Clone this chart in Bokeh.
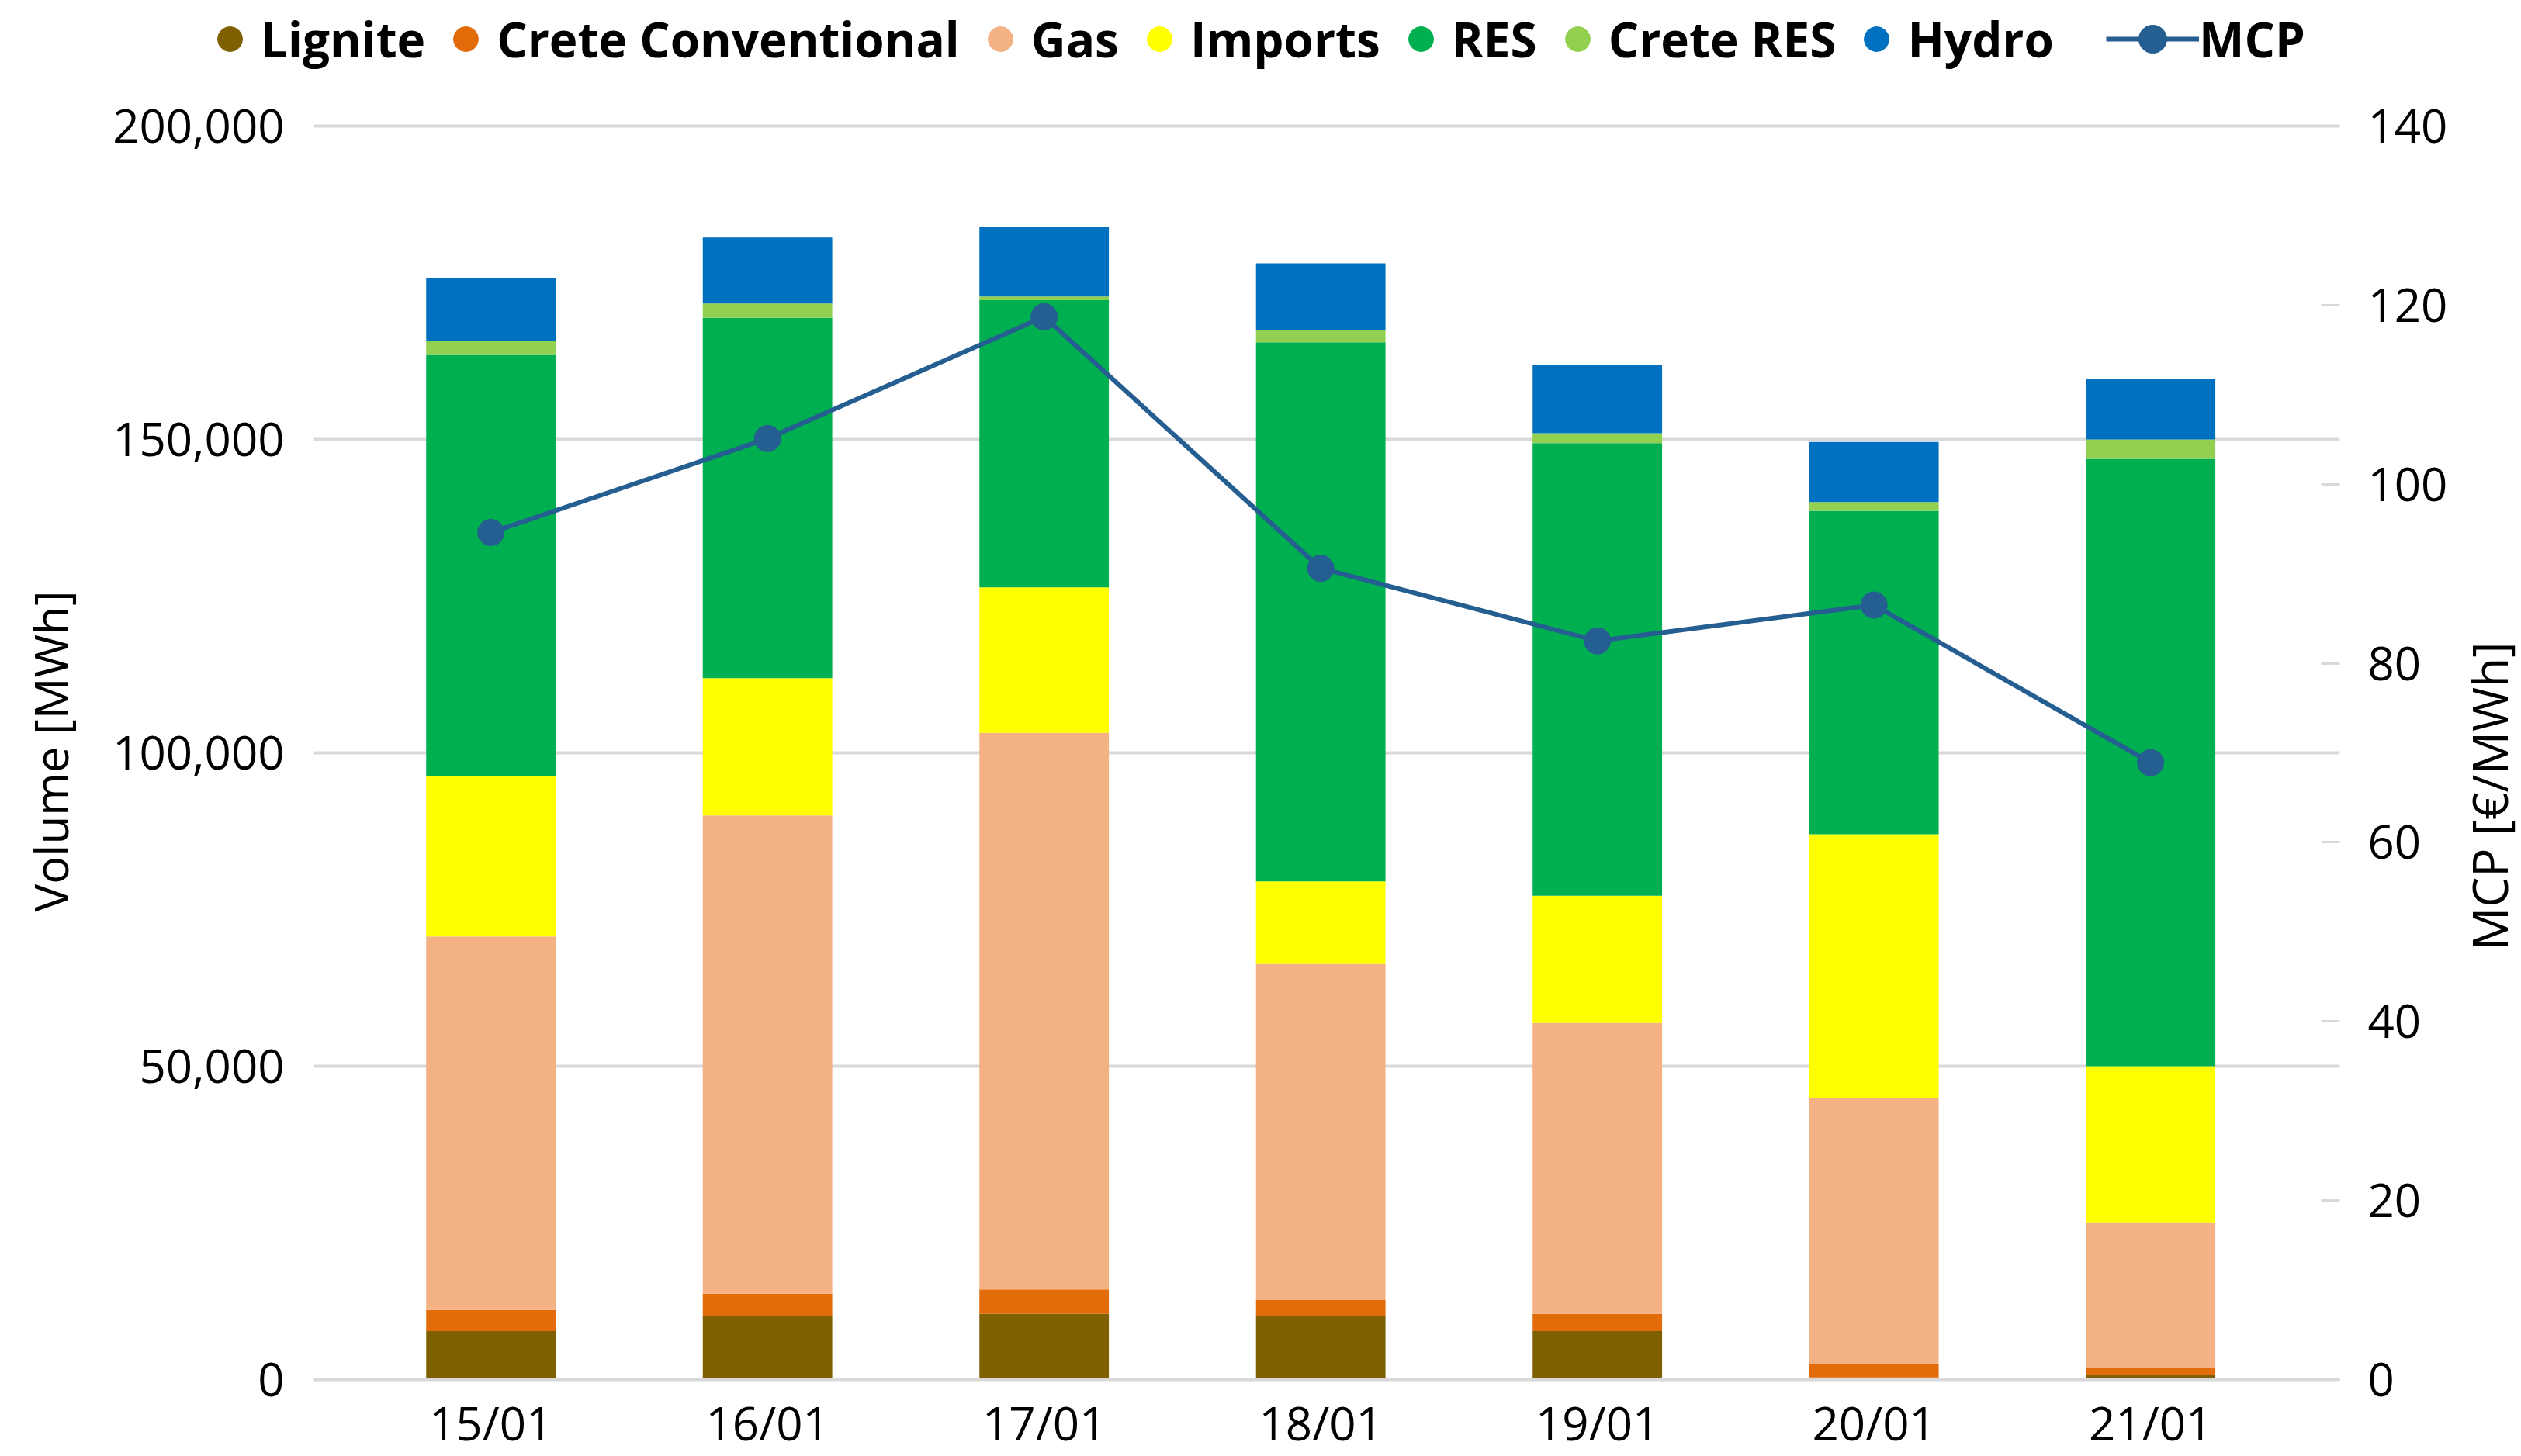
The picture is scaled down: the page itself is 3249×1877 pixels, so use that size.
import math
from bokeh.plotting import figure
from bokeh.layouts import column, row
from bokeh.models import (ColumnDataSource, Range1d, LinearAxis, FixedTicker,
                          NumeralTickFormatter, Legend, LegendItem, Label)
from bokeh.embed import file_html
from bokeh.resources import INLINE

# ---------------- data ----------------
dates = ["15/01", "16/01", "17/01", "18/01", "19/01", "20/01", "21/01"]
lignite = [7750, 10200, 10500, 10200, 7750, 330, 700]
crete_conv = [3350, 3500, 3900, 2500, 2750, 2070, 1200]
gas = [59600, 76300, 88800, 53600, 46400, 42500, 23200]
imports = [25600, 21900, 23200, 13200, 20300, 42100, 24900]
res = [67200, 57500, 45800, 86000, 72200, 51600, 96900]
crete_res = [2200, 2300, 600, 2000, 1600, 1400, 3100]
hydro = [10000, 10500, 11100, 10600, 10900, 9600, 9700]
mcp = [94.6, 105.1, 118.7, 90.6, 82.5, 86.5, 68.9]

series_names = ["Lignite", "Crete Conventional", "Gas", "Imports", "RES", "Crete RES", "Hydro"]
series_keys = ["lignite", "crete_conv", "gas", "imports", "res", "crete_res", "hydro"]
volume_ticks = [0, 50000, 100000, 150000, 200000]
mcp_ticks = [0, 20, 40, 60, 80, 100, 120, 140]

# ---------------- style ----------------
colors = ["#7f6000", "#e36c0a", "#f4b183", "#ffff00", "#00b050", "#92d050", "#0070c0"]
mcp_color = "#255e91"
grid_color = "#d9d9d9"
FONT = "Open Sans"
TICK_SIZE = "60px"

x = list(range(len(dates)))
src = ColumnDataSource(dict(x=x, lignite=lignite, crete_conv=crete_conv, gas=gas,
                            imports=imports, res=res, crete_res=crete_res,
                            hydro=hydro, mcp=mcp))

# ================= main chart =================
# a small headroom above 200,000 so the top grid line is fully visible
VOL_TOP = 200495
MCP_TOP = 140 * VOL_TOP / 200000
p = figure(frame_width=2611, frame_height=1620,
           x_range=Range1d(-0.64, 6.684), y_range=Range1d(0, VOL_TOP),
           output_backend="svg", toolbar_location=None,
           min_border_left=404, min_border_right=142,
           min_border_top=56, min_border_bottom=90,
           background_fill_color="white", border_fill_color="white",
           outline_line_color=None)
p.extra_y_ranges = {"mcp": Range1d(0, MCP_TOP)}

p.vbar_stack(series_keys, x="x", width=0.468, source=src,
             fill_color=colors, line_color=None)

p.line(x="x", y="mcp", source=src, y_range_name="mcp",
       line_color=mcp_color, line_width=6)
p.scatter(x="x", y="mcp", source=src, y_range_name="mcp", marker="circle",
          size=34, fill_color=mcp_color, line_color=mcp_color)

p.xgrid.visible = False
p.ygrid.grid_line_color = grid_color
p.ygrid.grid_line_width = 4

ya = p.yaxis[0]
ya.ticker = FixedTicker(ticks=volume_ticks)
ya.formatter = NumeralTickFormatter(format="0,0")
ya.axis_line_color = None
ya.major_tick_line_color = None
ya.minor_tick_line_color = None
ya.major_label_standoff = 32
ya.major_label_text_font = FONT
ya.major_label_text_font_size = TICK_SIZE
ya.major_label_text_color = "black"
ya.axis_label = "Volume [MWh]"
ya.axis_label_text_font = FONT
ya.axis_label_text_font_size = TICK_SIZE
ya.axis_label_text_font_style = "normal"
ya.axis_label_text_color = "black"
ya.axis_label_standoff = 36

ra = LinearAxis(y_range_name="mcp", ticker=FixedTicker(ticks=mcp_ticks))
ra.axis_line_color = None
ra.major_tick_in = 24
ra.major_tick_out = 0
ra.major_tick_line_color = grid_color
ra.major_tick_line_width = 3
ra.minor_tick_line_color = None
ra.major_label_standoff = 36
ra.major_label_text_font = FONT
ra.major_label_text_font_size = TICK_SIZE
ra.major_label_text_color = "black"
p.add_layout(ra, "right")

xa = p.xaxis[0]
xa.ticker = FixedTicker(ticks=x)
xa.major_label_overrides = {i: d for i, d in enumerate(dates)}
xa.major_tick_line_color = None
xa.minor_tick_line_color = None
xa.axis_line_color = grid_color
xa.axis_line_width = 4
xa.major_label_standoff = 8
xa.major_label_text_font = FONT
xa.major_label_text_font_size = TICK_SIZE
xa.major_label_text_color = "black"

# ================= right axis title strip =================
rt = figure(frame_width=92, frame_height=1766, x_range=Range1d(0, 1), y_range=Range1d(0, 1),
            output_backend="svg", toolbar_location=None, x_axis_type=None, y_axis_type=None,
            min_border=0, outline_line_color=None,
            background_fill_color="white", border_fill_color="white")
rt.add_layout(Label(x=50, y=898, x_units="screen", y_units="screen",
                    text="MCP [€/MWh]", angle=math.pi / 2,
                    text_align="center", text_baseline="middle",
                    text_font=FONT, text_font_size="62px", text_color="black"))

# ================= legend strip =================
lg = figure(frame_width=3241, frame_height=102, x_range=Range1d(0, 1), y_range=Range1d(0, 1),
            output_backend="svg", toolbar_location=None, x_axis_type=None, y_axis_type=None,
            min_border=0, outline_line_color=None,
            background_fill_color="white", border_fill_color="white")
bar_items = []
for name, c in zip(series_names, colors):
    r = lg.scatter(x=[math.nan], y=[math.nan], marker="circle", size=34,
                   fill_color=c, line_color=c)
    bar_items.append(LegendItem(label=name, renderers=[r]))
l_line = lg.line(x=[math.nan, math.nan], y=[math.nan, math.nan],
                 line_color=mcp_color, line_width=6)
l_dot = lg.scatter(x=[math.nan], y=[math.nan], marker="circle", size=34,
                   fill_color=mcp_color, line_color=mcp_color)

legend_style = dict(orientation="horizontal", label_standoff=0, spacing=12,
                    padding=0, margin=0, border_line_color=None,
                    background_fill_alpha=0, label_text_font=FONT,
                    label_text_font_size="62px", label_text_font_style="bold",
                    label_text_color="black")
lg.add_layout(Legend(items=bar_items, location=(256, 7),
                     glyph_width=80, glyph_height=90, **legend_style))
lg.add_layout(Legend(items=[LegendItem(label="MCP", renderers=[l_line, l_dot])],
                     location=(2714, 7), glyph_width=120, glyph_height=90,
                     **legend_style))

layout = column(lg, row(p, rt, spacing=0), spacing=0)

open("out.html", "w").write(file_html(layout, INLINE))
